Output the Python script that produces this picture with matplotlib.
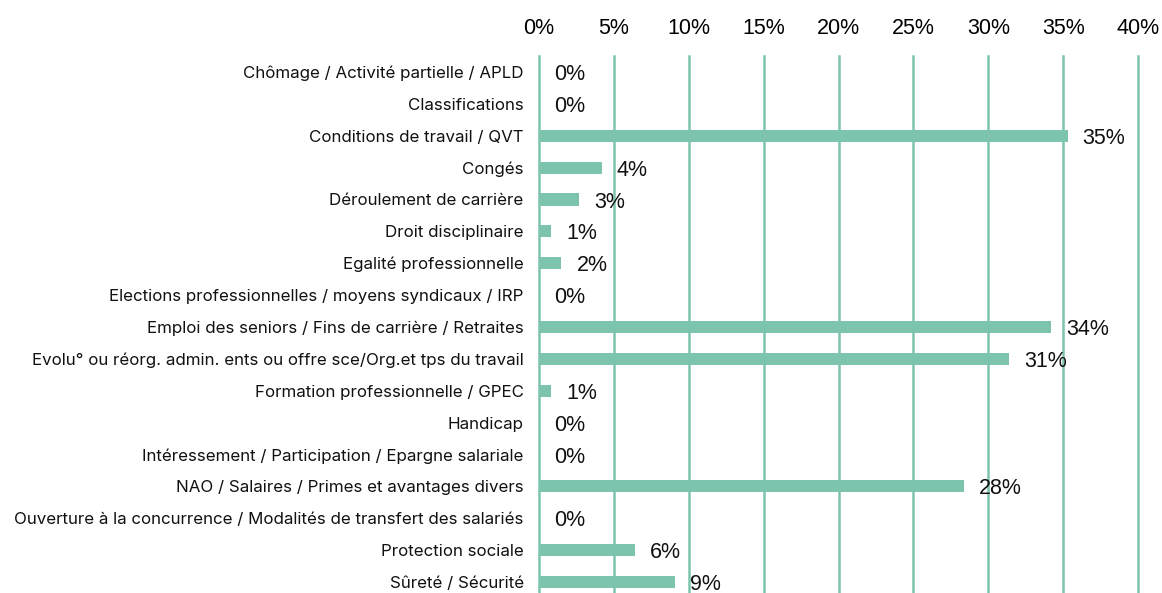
import numpy as np
import matplotlib.pyplot as plt

# catégories (de haut en bas) et valeurs en %
categories = [
    "Chômage / Activité partielle / APLD",
    "Classifications",
    "Conditions de travail / QVT",
    "Congés",
    "Déroulement de carrière",
    "Droit disciplinaire",
    "Egalité professionnelle",
    "Elections professionnelles / moyens syndicaux / IRP",
    "Emploi des seniors / Fins de carrière / Retraites",
    "Evolu° ou réorg. admin. ents ou offre sce/Org.et tps du travail",
    "Formation professionnelle / GPEC",
    "Handicap",
    "Intéressement / Participation / Epargne salariale",
    "NAO / Salaires / Primes et avantages divers",
    "Ouverture à la concurrence / Modalités de transfert des salariés",
    "Protection sociale",
    "Sûreté / Sécurité",
]
values = [0, 0, 35.3, 4.2, 2.7, 0.8, 1.5, 0, 34.2, 31.4, 0.8, 0, 0, 28.4, 0, 6.4, 9.1]
xticks = [0, 5, 10, 15, 20, 25, 30, 35, 40]

color = '#7DC4AE'

fig = plt.figure(figsize=(11.62, 5.93), dpi=100)
ax = fig.add_axes([539 / 1162, -5 / 593, 599 / 1162, 542 / 593])

y = np.arange(len(categories))
ax.barh(y, values, height=0.38, color=color, zorder=3)

for yi, v in zip(y, values):
    ax.text(v + 1.0, yi + 0.08, f"{round(v):d}%", va='center', ha='left',
            fontsize=15.5, family='Liberation Sans', color='#111111', zorder=4)

ax.set_xlim(0, 40)
ax.set_ylim(len(categories) - 0.5, -0.5)
ax.set_xticks(xticks)
ax.set_xticklabels([f"{t}%" for t in xticks], fontsize=15.5, family='Liberation Sans')
ax.xaxis.tick_top()
ax.tick_params(axis='x', length=0, pad=12)
ax.set_yticks(y)
ax.set_yticklabels(categories, fontsize=12.2, family='Inter', color='#111111')
ax.tick_params(axis='y', length=0, pad=11)

# quadrillage vertical
for t in xticks:
    ax.axvline(t, color=color, linewidth=1.8, zorder=0, clip_on=False)
for s in ax.spines.values():
    s.set_visible(False)

fig.savefig('out.png', dpi=100)
